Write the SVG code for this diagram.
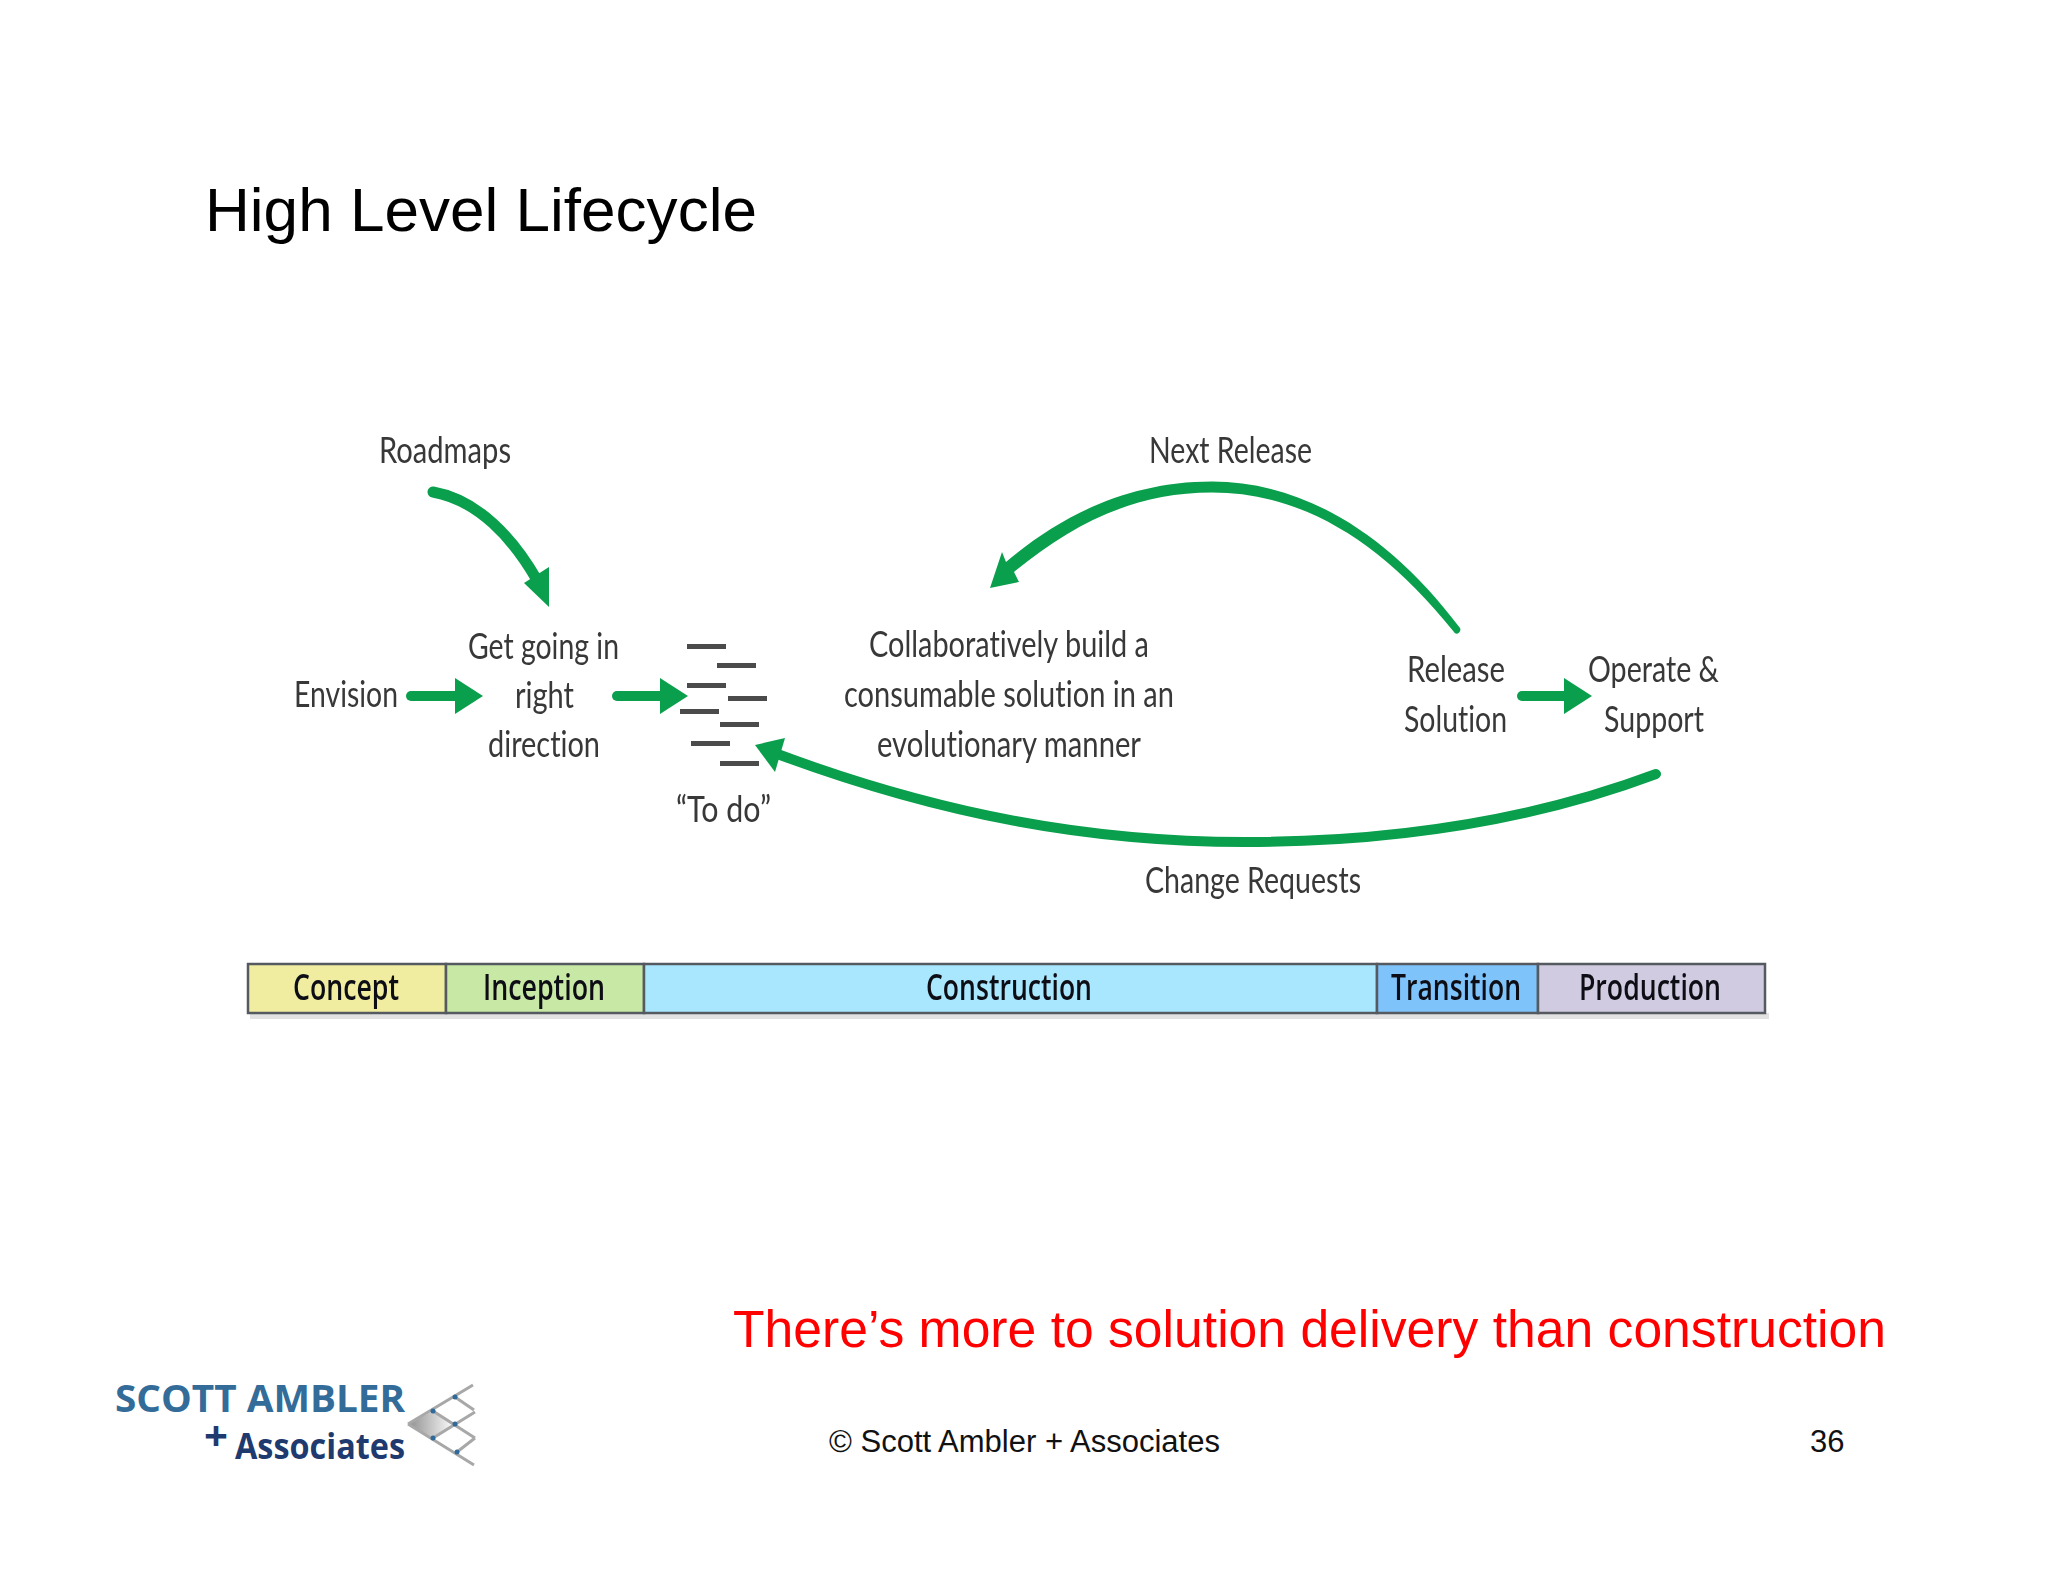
<svg xmlns="http://www.w3.org/2000/svg" width="2048" height="1582" viewBox="0 0 2048 1582">
<style>
.a{font-family:"Liberation Sans",Arial,sans-serif}
.t{font-family:Lato,"Open Sans",sans-serif;font-size:36px;fill:#383838;filter:url(#soft);font-variant-ligatures:none}
.p{font-family:"Open Sans",Lato,sans-serif;font-size:36px;font-weight:600;fill:#111116;filter:url(#soft)}
.b{stroke:#555a60;stroke-width:2.5}
.g{fill:none;stroke:#0a9f4c;stroke-linecap:round}
.f{fill:#0a9f4c}
.l{fill:#4c4c4c;filter:url(#soft)}
.m{stroke:#a8a8a8;stroke-width:3;fill:none}
.d{fill:#2f6a9a}
.o{font-family:"Open Sans",sans-serif;font-weight:700}
</style>
<defs>
<filter id="soft" x="-10%" y="-30%" width="120%" height="160%"><feGaussianBlur stdDeviation="0.55"/></filter>
<linearGradient id="lg" x1="0" x2="1" y1="0" y2="0"><stop offset="0" stop-color="#8f8f8f"/><stop offset="1" stop-color="#ffffff"/></linearGradient>
<marker id="head" markerUnits="userSpaceOnUse" viewBox="0 0 28 36" refX="4" refY="18" markerWidth="28" markerHeight="36" orient="auto"><path class="f" d="M0,0L28,18L0,36Z"/></marker>
</defs>
<rect width="2048" height="1582" fill="#ffffff"/>
<g id="title"><text class="a" x="205" y="231" font-size="62" textLength="552" lengthAdjust="spacingAndGlyphs" fill="#000">High Level Lifecycle</text></g>
<g id="connectors">
<path class="g" stroke-width="10" marker-end="url(#head)" d="M411,696H459"/>
<path class="g" stroke-width="10" marker-end="url(#head)" d="M617,696H664"/>
<path class="g" stroke-width="10" marker-end="url(#head)" d="M1522,696H1568"/>
<path class="g" stroke-width="11" d="M433,492C478,500 513,538 537,580"/>
<polygon class="f" points="549,607 549,567 524,583"/>
<path class="f" d="M1460,628C1386,530 1300,481.5 1212,481.5C1128,481.5 1060,516 1006,562L1002,552L990,588L1019,582L1014,572C1070,526 1132,492.5 1212,492.5C1298,492.5 1378,537 1454,632C1456,636 1462,632 1460,628Z"/>
<path class="g" stroke-width="10" d="M1656,774C1520,825 1380,842 1245,842C1090,842 940,815 772,752"/>
<polygon class="f" points="755,745 785,738 775,772"/>
</g>
<g id="roadmaps"><text class="t" x="379" y="463" textLength="132" lengthAdjust="spacingAndGlyphs">Roadmaps</text></g>
<g id="next-release"><text class="t" x="1149" y="463" textLength="163" lengthAdjust="spacingAndGlyphs">Next Release</text></g>
<g id="envision"><text class="t" x="294" y="707" textLength="104" lengthAdjust="spacingAndGlyphs">Envision</text></g>
<g id="get-going">
<text class="t" x="468" y="659" textLength="151" lengthAdjust="spacingAndGlyphs">Get going in</text>
<text class="t" x="515" y="708" textLength="59" lengthAdjust="spacingAndGlyphs">right</text>
<text class="t" x="488" y="757" textLength="112" lengthAdjust="spacingAndGlyphs">direction</text>
</g>
<g id="todo">
<rect class="l" x="687" y="644" width="39" height="5"/>
<rect class="l" x="717" y="663" width="39" height="5"/>
<rect class="l" x="687" y="683" width="39" height="5"/>
<rect class="l" x="728" y="696" width="39" height="5"/>
<rect class="l" x="680" y="709" width="39" height="5"/>
<rect class="l" x="720" y="722" width="39" height="5"/>
<rect class="l" x="691" y="741" width="39" height="5"/>
<rect class="l" x="720" y="761" width="39" height="5"/>
<text class="t" x="676" y="822" textLength="95" lengthAdjust="spacingAndGlyphs">“To do”</text>
</g>
<g id="build">
<text class="t" x="869" y="657" textLength="280" lengthAdjust="spacingAndGlyphs">Collaboratively build a</text>
<text class="t" x="844" y="707" textLength="330" lengthAdjust="spacingAndGlyphs">consumable solution in an</text>
<text class="t" x="877" y="757" textLength="264" lengthAdjust="spacingAndGlyphs">evolutionary manner</text>
</g>
<g id="release">
<text class="t" x="1407" y="682" textLength="98" lengthAdjust="spacingAndGlyphs">Release</text>
<text class="t" x="1404" y="732" textLength="103" lengthAdjust="spacingAndGlyphs">Solution</text>
</g>
<g id="operate">
<text class="t" x="1588" y="682" textLength="131" lengthAdjust="spacingAndGlyphs">Operate &amp;</text>
<text class="t" x="1604" y="732" textLength="100" lengthAdjust="spacingAndGlyphs">Support</text>
</g>
<g id="change-requests"><text class="t" x="1145" y="893" textLength="216" lengthAdjust="spacingAndGlyphs">Change Requests</text></g>
<g id="phases">
<rect x="250" y="1013" width="1519" height="6" fill="#e2e2e2"/>
<g id="concept"><rect class="b" x="248" y="964" width="198" height="49" fill="#f0eda0"/><text class="p" x="293" y="1000" textLength="106" lengthAdjust="spacingAndGlyphs">Concept</text></g>
<g id="inception"><rect class="b" x="446" y="964" width="198" height="49" fill="#c8e8a5"/><text class="p" x="483" y="1000" textLength="122" lengthAdjust="spacingAndGlyphs">Inception</text></g>
<g id="construction"><rect class="b" x="644" y="964" width="733" height="49" fill="#a9e7ff"/><text class="p" x="926" y="1000" textLength="166" lengthAdjust="spacingAndGlyphs">Construction</text></g>
<g id="transition"><rect class="b" x="1377" y="964" width="161" height="49" fill="#7fc3fb"/><text class="p" x="1391" y="1000" textLength="130" lengthAdjust="spacingAndGlyphs">Transition</text></g>
<g id="production"><rect class="b" x="1538" y="964" width="227" height="49" fill="#d0cbe0"/><text class="p" x="1579" y="1000" textLength="142" lengthAdjust="spacingAndGlyphs">Production</text></g>
</g>
<g id="note"><text class="a" x="733" y="1347" font-size="51" textLength="1153" lengthAdjust="spacingAndGlyphs" fill="#ff0000">There’s more to solution delivery than construction</text></g>
<g id="footer">
<text class="a" x="829" y="1452" font-size="31" textLength="391" lengthAdjust="spacingAndGlyphs" fill="#111">© Scott Ambler + Associates</text>
<text class="a" x="1810" y="1452" font-size="31" fill="#111">36</text>
</g>
<g id="logo">
<text class="o" x="115" y="1412" font-size="38" fill="#336c99" textLength="290" lengthAdjust="spacingAndGlyphs">SCOTT AMBLER</text>
<text class="o" x="204" y="1451" font-size="42" fill="#1f3a6e">+</text>
<text class="o" x="235" y="1459" font-size="36" fill="#1f3a6e" textLength="170" lengthAdjust="spacingAndGlyphs">Associates</text>
<polygon points="408,1424 433,1411 455,1424 433,1438" fill="url(#lg)"/>
<path class="m" d="M408,1424L473,1385M408,1424L474,1465M433,1411L475,1438M455,1397L474,1410M433,1438L475,1412M457,1452L475,1438"/>
<circle class="d" cx="455" cy="1397" r="2.5"/><circle class="d" cx="433" cy="1411" r="2.5"/><circle class="d" cx="455" cy="1424" r="2.5"/><circle class="d" cx="433" cy="1438" r="2.5"/><circle class="d" cx="457" cy="1452" r="2.5"/>
</g>
</svg>
